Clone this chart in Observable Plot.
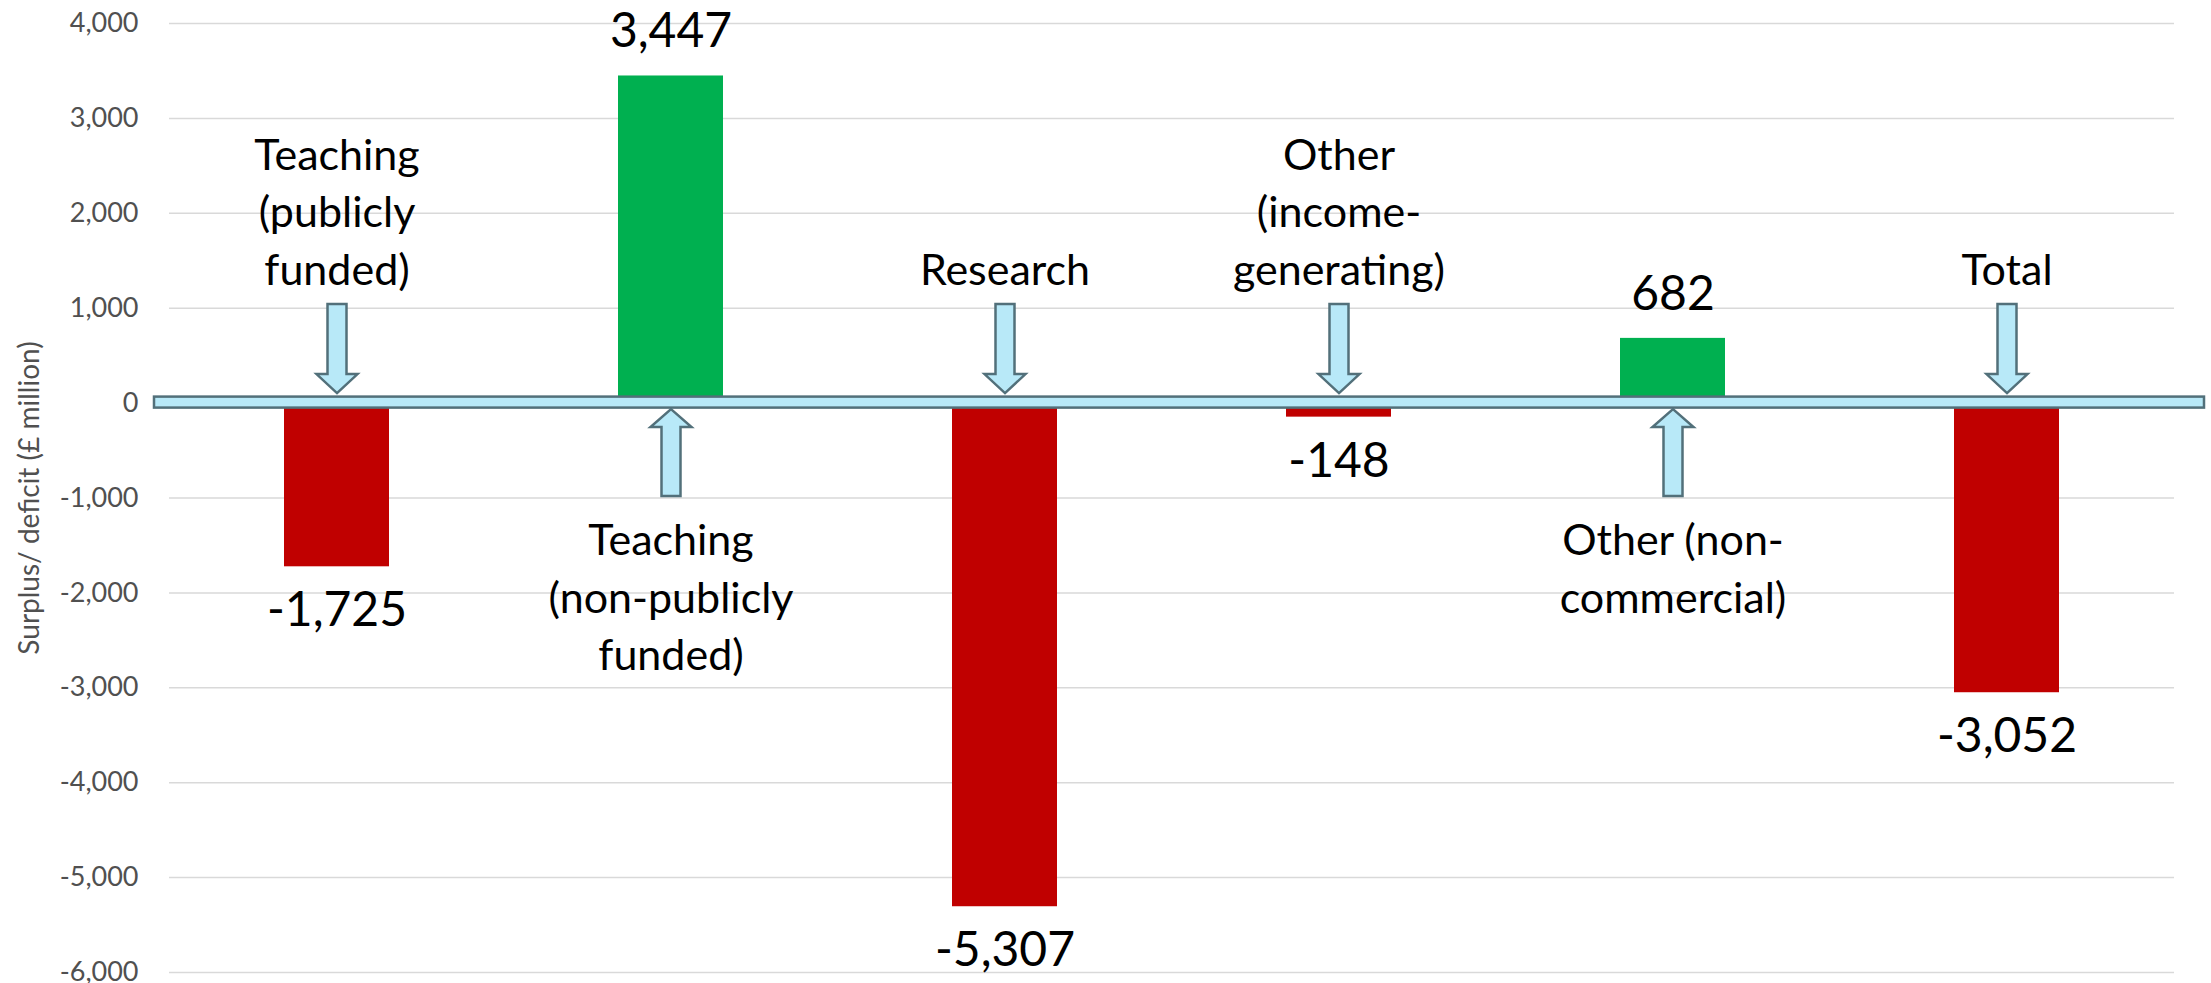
<!DOCTYPE html>
<html>
<head>
<meta charset="utf-8">
<script src="https://cdn.jsdelivr.net/npm/d3@7"></script>
<script src="https://cdn.jsdelivr.net/npm/@observablehq/plot@0.6"></script>
<style>
  body { margin: 0; background: #ffffff; }
  #chart svg { display: block; }
</style>
</head>
<body>
<div id="chart"></div>
<script>
// ---- Data ----
const categories = [
  "Teaching (publicly funded)",
  "Teaching (non-publicly funded)",
  "Research",
  "Other (income-generating)",
  "Other (non-commercial)",
  "Total"
];
const values = [-1725, 3447, -5307, -148, 682, -3052];
const labelText = [
  "Teaching\n(publicly\nfunded)",
  "Teaching\n(non-publicly\nfunded)",
  "Research",
  "Other\n(income-\ngenerating)",
  "Other (non-\ncommercial)",
  "Total"
];
const labelSide = ["above", "below", "above", "above", "below", "above"];
const yTicks = [4000, 3000, 2000, 1000, 0, -1000, -2000, -3000, -4000, -5000, -6000];
const yLabel = "Surplus/ deficit (£ million)";

// ---- Build table ----
const data = categories.map((c, i) => ({
  category: c, value: values[i], label: labelText[i], side: labelSide[i]
}));
const fmt = v => (v < 0 ? "-" : "") + d3.format(",")(Math.abs(v));

const ARROW_FILL = "#b8e9f8";
const ARROW_STROKE = "#52707a";

// Block arrow symbols (anchored on the zero line)
const arrowDown = {
  draw(ctx) {
    ctx.moveTo(0, -10);
    ctx.lineTo(20.5, -29);
    ctx.lineTo(9.5, -29);
    ctx.lineTo(9.5, -99);
    ctx.lineTo(-9.5, -99);
    ctx.lineTo(-9.5, -29);
    ctx.lineTo(-20.5, -29);
    ctx.closePath();
  }
};
const arrowUp = {
  draw(ctx) {
    ctx.moveTo(0, 6);
    ctx.lineTo(20.5, 24);
    ctx.lineTo(9.5, 24);
    ctx.lineTo(9.5, 93);
    ctx.lineTo(-9.5, 93);
    ctx.lineTo(-9.5, 24);
    ctx.lineTo(-20.5, 24);
    ctx.closePath();
  }
};

const above = data.filter(d => d.side === "above");
const below = data.filter(d => d.side === "below");
const pos = data.filter(d => d.value >= 0);
const neg = data.filter(d => d.value < 0);

const chart = Plot.plot({
  width: 2211,
  height: 983,
  marginLeft: 169,
  marginRight: 37,
  marginTop: 23,
  marginBottom: 11,
  style: { fontFamily: "Lato, 'Open Sans', sans-serif", background: "#ffffff", overflow: "visible" },
  x: { domain: categories, paddingInner: 0.686, paddingOuter: 0.343, axis: null },
  y: { domain: [-6000, 4000] },
  color: { type: "identity" },
  marks: [
    Plot.gridY(yTicks, { stroke: "#d9d9d9", strokeOpacity: 1, strokeWidth: 1.5 }),
    Plot.axisY({
      ticks: yTicks, tickFormat: fmt, tickSize: 0, tickPadding: 31,
      fontSize: 27, color: "#505050", label: null
    }),
    Plot.text([yLabel], {
      frameAnchor: "left", rotate: -90, dx: -139,
      textAnchor: "middle", lineAnchor: "middle",
      fontSize: 28, fill: "#505050"
    }),
    Plot.barY(data, {
      x: "category", y: "value",
      fill: d => d.value < 0 ? "#c00000" : "#00b050"
    }),
    // zero-line band
    Plot.rect([0], {
      y1: () => 0, y2: () => 0,
      insetTop: -6, insetBottom: -5, insetLeft: -15, insetRight: -30,
      fill: ARROW_FILL, stroke: ARROW_STROKE, strokeWidth: 2.5
    }),
    Plot.dot(above, {
      x: "category", y: () => 0, symbol: arrowDown,
      fill: ARROW_FILL, stroke: ARROW_STROKE, strokeWidth: 2.5
    }),
    Plot.dot(below, {
      x: "category", y: () => 0, symbol: arrowUp,
      fill: ARROW_FILL, stroke: ARROW_STROKE, strokeWidth: 2.5
    }),
    // category labels
    Plot.text(above, {
      x: "category", y: () => 0, text: "label",
      lineAnchor: "bottom", dy: -118, fontSize: 43, lineHeight: 1.34, fill: "#000"
    }),
    Plot.text(below, {
      x: "category", y: () => 0, text: "label",
      lineAnchor: "top", dy: 111, fontSize: 43, lineHeight: 1.34, fill: "#000"
    }),
    // value labels
    Plot.text(pos, {
      x: "category", y: "value", text: d => fmt(d.value),
      lineAnchor: "middle", dy: -44, fontSize: 48, fill: "#000"
    }),
    Plot.text(neg, {
      x: "category", y: "value", text: d => fmt(d.value),
      lineAnchor: "middle", dy: 44, fontSize: 48, fill: "#000"
    })
  ]
});

document.getElementById("chart").appendChild(chart);
</script>
</body>
</html>
